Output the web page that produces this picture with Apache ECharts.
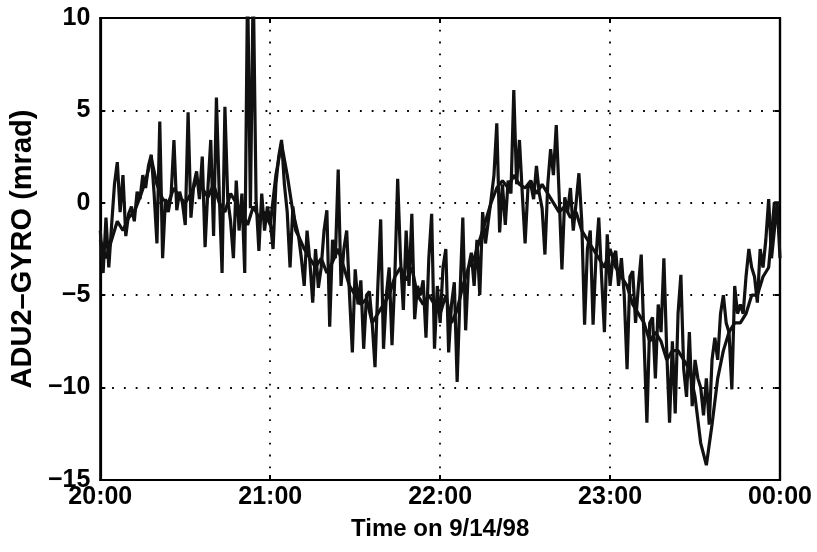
<!DOCTYPE html>
<html>
<head>
<meta charset="utf-8">
<script src="https://cdn.jsdelivr.net/npm/echarts@6/dist/echarts.min.js"></script>
<style>html,body{margin:0;padding:0;background:#fff}#chart{width:817px;height:552px}</style>
</head>
<body>
<div id="chart"></div>
<script>
// Minutes after 20:00 on 9/14/98
const xTickLabels = ["20:00", "21:00", "22:00", "23:00", "00:00"];
const yTickValues = [-15, -10, -5, 0, 5, 10];

// Series A: raw difference, one sample per minute (t = 0..240)
const rawMinutes = [];
for (let i = 0; i <= 240; i++) rawMinutes.push(i);
const rawValues = [
  -1.5,-3.8,-0.8,-3.5,-1.2,1.0,2.2,-0.5,1.5,-1.8,
  -0.6,-0.2,-1.0,0.6,0.2,1.5,0.8,2.0,2.6,0.5,
  -2.2,4.4,-3.0,0.2,-0.5,0.4,3.4,-0.4,0.6,0.0,
  -1.2,4.9,-0.8,1.0,1.7,0.2,2.5,-2.4,0.8,3.4,
  -1.8,5.7,0.5,-3.8,5.2,0.2,-1.0,-3.0,1.2,-1.5,
  0.5,-3.8,12,-0.3,12,0.2,-2.6,0.5,-1.5,-0.2,
  -1.0,-2.5,1.0,2.5,3.4,1.0,-0.5,-3.5,-0.2,-1.5,
  -1.8,-3.0,-4.5,-1.5,-3.2,-5.4,-2.5,-4.6,-3.5,-1.5,
  -0.4,-6.7,-2.0,-3.0,1.8,-4.5,-2.5,-1.5,-5.0,-8.1,
  -3.6,-5.5,-4.2,-7.9,-5.0,-4.8,-6.5,-8.9,-4.5,-0.9,
  -7.9,-5.0,-3.5,-7.7,-4.0,1.3,-3.0,-5.8,-1.5,-4.5,
  -0.6,-6.3,-4.5,-5.0,-4.2,-7.3,-3.0,-0.6,-7.9,-4.5,
  -6.5,-3.5,-2.5,-8.1,-5.5,-4.3,-9.7,-5.0,-0.8,-6.9,
  -3.5,-2.7,-4.5,-2.0,-5.0,-0.5,-2.2,-1.0,0.2,1.5,
  4.3,-1.6,1.0,-1.2,1.2,0.5,6.1,1.0,3.4,0.5,
  -2.2,0.8,1.0,0.2,2.0,0.5,-0.3,-2.8,1.0,2.9,
  1.5,4.2,0.5,-3.6,0.3,-0.5,0.8,-1.5,0.0,1.6,
  -1.0,-6.6,-2.5,-1.5,-6.6,-3.0,-0.8,-4.0,-7.0,-1.7,
  -4.5,-3.0,-2.6,-4.5,-3.0,-5.0,-9.0,-4.0,-3.7,-6.5,
  -4.5,-2.8,-7.5,-11.9,-6.5,-6.2,-9.5,-5.5,-7.0,-3.0,
  -8.0,-11.9,-7.5,-11.4,-6.0,-3.9,-9.0,-10.5,-7.0,-11.0,
  -8.5,-9.5,-10.0,-11.5,-9.5,-12.0,-8.5,-7.3,-8.5,-6.0,
  -5.0,-6.5,-7.0,-10.1,-4.5,-6.0,-5.5,-6.0,-4.0,-2.5,
  -3.5,-4.0,-5.4,-2.5,-3.5,-2.0,0.2,-3.0,-1.5,0.0,
  -3.0
];

// Series B: smoother trace, one sample every 2 minutes (t = 0..240)
const smoothMinutes = [];
for (let i = 0; i <= 240; i += 2) smoothMinutes.push(i);
const smoothValues = [
  -2.0,-3.0,-2.0,-1.0,-1.5,-0.8,-0.5,0.3,1.2,2.4,
  1.0,0.2,0.0,0.8,0.3,0.0,0.5,1.2,0.8,0.3,
  1.0,0.0,-0.5,0.5,0.0,-0.5,-1.2,-0.2,-0.8,-0.5,
  -1.2,1.5,3.2,1.5,-0.5,-1.8,-2.5,-3.0,-3.5,-3.0,
  -3.8,-3.2,-2.5,-3.5,-4.5,-5.0,-5.5,-5.2,-6.5,-6.0,
  -5.5,-5.0,-4.0,-3.5,-4.2,-3.5,-5.0,-5.5,-5.0,-5.5,
  -6.0,-5.0,-6.5,-5.8,-4.5,-3.5,-3.0,-2.0,-1.0,0.0,
  0.8,1.2,0.8,1.5,1.0,0.8,1.2,0.5,1.0,0.5,
  0.0,-0.5,-0.2,-0.8,-0.5,-1.5,-2.0,-2.5,-3.0,-3.5,
  -2.5,-3.5,-4.0,-4.5,-5.5,-6.0,-6.5,-7.5,-7.0,-7.5,
  -8.5,-8.0,-8.0,-8.5,-9.0,-10.5,-13.0,-14.2,-12.0,-9.5,
  -8.0,-7.0,-6.5,-6.5,-6.0,-5.0,-5.0,-4.0,-3.5,0.0,
  0.0
];

const FONT = "'Liberation Sans', Arial, Helvetica, sans-serif";
const rawData = rawMinutes.map((t, i) => [t, rawValues[i]]);
const smoothData = smoothMinutes.map((t, i) => [t, smoothValues[i]]);
const fmtY = v => String(v).replace('-', '\u2212');

const chart = echarts.init(document.getElementById('chart'), null, {renderer: 'canvas'});
const dots = {show: true, lineStyle: {color: '#000', width: 1.8, type: [1.8, 10]}};
const common = {min: 0, max: 240, interval: 60};
const axisLineStyle = {show: true, onZero: false, lineStyle: {color: '#000', width: 2.2}};
const tickStyle = {show: true, inside: true, length: 5, lineStyle: {color: '#000', width: 2}};
chart.setOption({
  animation: false,
  backgroundColor: '#fff',
  grid: {left: 100, right: 37, top: 18, bottom: 72, show: true, borderColor: '#000', borderWidth: 2.2, backgroundColor: 'transparent'},
  xAxis: [{
    type: 'value', ...common, position: 'bottom',
    name: 'Time on 9/14/98', nameLocation: 'middle', nameGap: 37,
    nameTextStyle: {fontFamily: FONT, fontWeight: 'bold', fontSize: 24, color: '#000'},
    axisLine: axisLineStyle, axisTick: tickStyle,
    axisLabel: {fontFamily: FONT, fontWeight: 'bold', fontSize: 25, color: '#000', margin: 5,
      formatter: v => xTickLabels[Math.round(v / 60)] || ''},
    splitLine: dots
  }, {
    type: 'value', ...common, position: 'top',
    axisLine: axisLineStyle, axisTick: tickStyle,
    axisLabel: {show: false}, splitLine: {show: false}
  }],
  yAxis: [{
    type: 'value', min: yTickValues[0], max: yTickValues[yTickValues.length - 1], interval: 5,
    name: 'ADU2\u2013GYRO (mrad)', nameLocation: 'middle', nameGap: 61,
    nameTextStyle: {fontFamily: FONT, fontWeight: 'bold', fontSize: 29, color: '#000'},
    axisLine: axisLineStyle, axisTick: tickStyle,
    axisLabel: {fontFamily: FONT, fontWeight: 'bold', fontSize: 25, color: '#000', margin: 10, formatter: fmtY},
    splitLine: dots
  }, {
    type: 'value', min: yTickValues[0], max: yTickValues[yTickValues.length - 1], interval: 5, position: 'right',
    axisLine: axisLineStyle, axisTick: tickStyle,
    axisLabel: {show: false}, splitLine: {show: false}
  }],
  series: [{
    type: 'line', data: smoothData, showSymbol: false, clip: true,
    lineStyle: {color: '#111', width: 3.2}, z: 3
  }, {
    type: 'line', data: rawData, showSymbol: false, clip: true,
    lineStyle: {color: '#111', width: 3.2}, z: 4
  }]
});
</script>
</body>
</html>
